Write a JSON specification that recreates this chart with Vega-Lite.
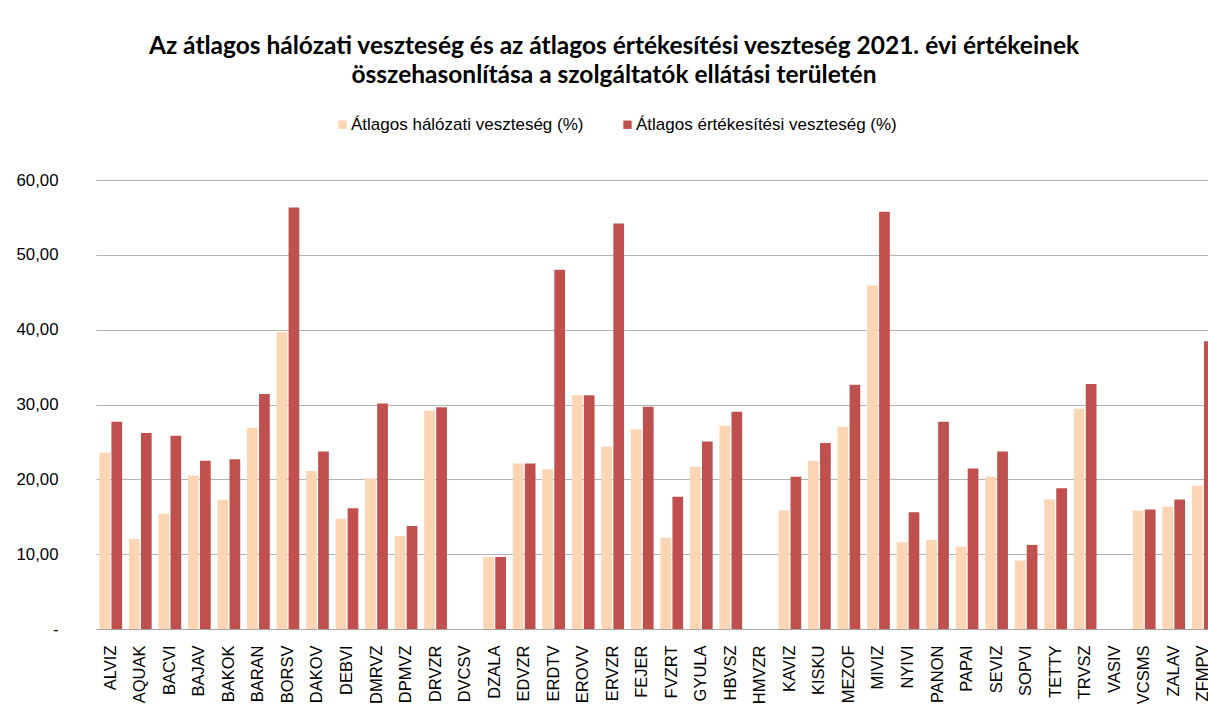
{
  "$schema": "https://vega.github.io/schema/vega-lite/v6.json",
  "autosize": {"type": "none"},
  "width": 1122,
  "height": 449,
  "padding": {"left": 96, "top": 180, "right": 0, "bottom": 77},
  "background": "white",
  "config": {"view": {"stroke": null}},
  "title": {
    "text": ["Az átlagos hálózati veszteség és az átlagos értékesítési veszteség 2021. évi értékeinek", "összehasonlítása a szolgáltatók ellátási területén"],
    "anchor": "middle",
    "frame": "group",
    "dx": -43,
    "offset": 28,
    "font": "Lato",
    "fontSize": 24.5,
    "fontWeight": "bold",
    "color": "#000000",
    "lineHeight": 29
  },
  "data": {
    "values": [
      {"szolgaltato": "ALVIZ", "mutato": "Átlagos hálózati veszteség (%)", "ertek": 23.55},
      {"szolgaltato": "ALVIZ", "mutato": "Átlagos értékesítési veszteség (%)", "ertek": 27.70},
      {"szolgaltato": "AQUAK", "mutato": "Átlagos hálózati veszteség (%)", "ertek": 12.04},
      {"szolgaltato": "AQUAK", "mutato": "Átlagos értékesítési veszteség (%)", "ertek": 26.18},
      {"szolgaltato": "BACVI", "mutato": "Átlagos hálózati veszteség (%)", "ertek": 15.39},
      {"szolgaltato": "BACVI", "mutato": "Átlagos értékesítési veszteség (%)", "ertek": 25.82},
      {"szolgaltato": "BAJAV", "mutato": "Átlagos hálózati veszteség (%)", "ertek": 20.52},
      {"szolgaltato": "BAJAV", "mutato": "Átlagos értékesítési veszteség (%)", "ertek": 22.48},
      {"szolgaltato": "BAKOK", "mutato": "Átlagos hálózati veszteség (%)", "ertek": 17.26},
      {"szolgaltato": "BAKOK", "mutato": "Átlagos értékesítési veszteség (%)", "ertek": 22.70},
      {"szolgaltato": "BARAN", "mutato": "Átlagos hálózati veszteség (%)", "ertek": 26.90},
      {"szolgaltato": "BARAN", "mutato": "Átlagos értékesítési veszteség (%)", "ertek": 31.40},
      {"szolgaltato": "BORSV", "mutato": "Átlagos hálózati veszteség (%)", "ertek": 39.65},
      {"szolgaltato": "BORSV", "mutato": "Átlagos értékesítési veszteség (%)", "ertek": 56.33},
      {"szolgaltato": "DAKOV", "mutato": "Átlagos hálózati veszteség (%)", "ertek": 21.10},
      {"szolgaltato": "DAKOV", "mutato": "Átlagos értékesítési veszteség (%)", "ertek": 23.73},
      {"szolgaltato": "DEBVI", "mutato": "Átlagos hálózati veszteség (%)", "ertek": 14.72},
      {"szolgaltato": "DEBVI", "mutato": "Átlagos értékesítési veszteség (%)", "ertek": 16.15},
      {"szolgaltato": "DMRVZ", "mutato": "Átlagos hálózati veszteség (%)", "ertek": 20.12},
      {"szolgaltato": "DMRVZ", "mutato": "Átlagos értékesítési veszteség (%)", "ertek": 30.15},
      {"szolgaltato": "DPMVZ", "mutato": "Átlagos hálózati veszteség (%)", "ertek": 12.44},
      {"szolgaltato": "DPMVZ", "mutato": "Átlagos értékesítési veszteség (%)", "ertek": 13.78},
      {"szolgaltato": "DRVZR", "mutato": "Átlagos hálózati veszteség (%)", "ertek": 29.17},
      {"szolgaltato": "DRVZR", "mutato": "Átlagos értékesítési veszteség (%)", "ertek": 29.62},
      {"szolgaltato": "DVCSV", "mutato": "Átlagos hálózati veszteség (%)", "ertek": null},
      {"szolgaltato": "DVCSV", "mutato": "Átlagos értékesítési veszteség (%)", "ertek": null},
      {"szolgaltato": "DZALA", "mutato": "Átlagos hálózati veszteség (%)", "ertek": 9.63},
      {"szolgaltato": "DZALA", "mutato": "Átlagos értékesítési veszteség (%)", "ertek": 9.63},
      {"szolgaltato": "EDVZR", "mutato": "Átlagos hálózati veszteség (%)", "ertek": 22.12},
      {"szolgaltato": "EDVZR", "mutato": "Átlagos értékesítési veszteség (%)", "ertek": 22.12},
      {"szolgaltato": "ERDTV", "mutato": "Átlagos hálózati veszteség (%)", "ertek": 21.36},
      {"szolgaltato": "ERDTV", "mutato": "Átlagos értékesítési veszteség (%)", "ertek": 47.99},
      {"szolgaltato": "EROVV", "mutato": "Átlagos hálózati veszteség (%)", "ertek": 31.22},
      {"szolgaltato": "EROVV", "mutato": "Átlagos értékesítési veszteség (%)", "ertek": 31.22},
      {"szolgaltato": "ERVZR", "mutato": "Átlagos hálózati veszteség (%)", "ertek": 24.40},
      {"szolgaltato": "ERVZR", "mutato": "Átlagos értékesítési veszteség (%)", "ertek": 54.19},
      {"szolgaltato": "FEJER", "mutato": "Átlagos hálózati veszteség (%)", "ertek": 26.67},
      {"szolgaltato": "FEJER", "mutato": "Átlagos értékesítési veszteség (%)", "ertek": 29.70},
      {"szolgaltato": "FVZRT", "mutato": "Átlagos hálózati veszteség (%)", "ertek": 12.18},
      {"szolgaltato": "FVZRT", "mutato": "Átlagos értékesítési veszteség (%)", "ertek": 17.66},
      {"szolgaltato": "GYULA", "mutato": "Átlagos hálózati veszteség (%)", "ertek": 21.68},
      {"szolgaltato": "GYULA", "mutato": "Átlagos értékesítési veszteség (%)", "ertek": 25.07},
      {"szolgaltato": "HBVSZ", "mutato": "Átlagos hálózati veszteség (%)", "ertek": 27.16},
      {"szolgaltato": "HBVSZ", "mutato": "Átlagos értékesítési veszteség (%)", "ertek": 29.04},
      {"szolgaltato": "HMVZR", "mutato": "Átlagos hálózati veszteség (%)", "ertek": null},
      {"szolgaltato": "HMVZR", "mutato": "Átlagos értékesítési veszteség (%)", "ertek": null},
      {"szolgaltato": "KAVIZ", "mutato": "Átlagos hálózati veszteség (%)", "ertek": 15.83},
      {"szolgaltato": "KAVIZ", "mutato": "Átlagos értékesítési veszteség (%)", "ertek": 20.34},
      {"szolgaltato": "KISKU", "mutato": "Átlagos hálózati veszteség (%)", "ertek": 22.48},
      {"szolgaltato": "KISKU", "mutato": "Átlagos értékesítési veszteség (%)", "ertek": 24.84},
      {"szolgaltato": "MEZOF", "mutato": "Átlagos hálózati veszteség (%)", "ertek": 26.98},
      {"szolgaltato": "MEZOF", "mutato": "Átlagos értékesítési veszteség (%)", "ertek": 32.65},
      {"szolgaltato": "MIVIZ", "mutato": "Átlagos hálózati veszteség (%)", "ertek": 45.90},
      {"szolgaltato": "MIVIZ", "mutato": "Átlagos értékesítési veszteség (%)", "ertek": 55.75},
      {"szolgaltato": "NYIVI", "mutato": "Átlagos hálózati veszteség (%)", "ertek": 11.60},
      {"szolgaltato": "NYIVI", "mutato": "Átlagos értékesítési veszteség (%)", "ertek": 15.61},
      {"szolgaltato": "PANON", "mutato": "Átlagos hálózati veszteség (%)", "ertek": 11.91},
      {"szolgaltato": "PANON", "mutato": "Átlagos értékesítési veszteség (%)", "ertek": 27.70},
      {"szolgaltato": "PAPAI", "mutato": "Átlagos hálózati veszteség (%)", "ertek": 11.02},
      {"szolgaltato": "PAPAI", "mutato": "Átlagos értékesítési veszteség (%)", "ertek": 21.45},
      {"szolgaltato": "SEVIZ", "mutato": "Átlagos hálózati veszteség (%)", "ertek": 20.34},
      {"szolgaltato": "SEVIZ", "mutato": "Átlagos értékesítési veszteség (%)", "ertek": 23.73},
      {"szolgaltato": "SOPVI", "mutato": "Átlagos hálózati veszteség (%)", "ertek": 9.14},
      {"szolgaltato": "SOPVI", "mutato": "Átlagos értékesítési veszteség (%)", "ertek": 11.24},
      {"szolgaltato": "TETTY", "mutato": "Átlagos hálózati veszteség (%)", "ertek": 17.31},
      {"szolgaltato": "TETTY", "mutato": "Átlagos értékesítési veszteség (%)", "ertek": 18.82},
      {"szolgaltato": "TRVSZ", "mutato": "Átlagos hálózati veszteség (%)", "ertek": 29.44},
      {"szolgaltato": "TRVSZ", "mutato": "Átlagos értékesítési veszteség (%)", "ertek": 32.74},
      {"szolgaltato": "VASIV", "mutato": "Átlagos hálózati veszteség (%)", "ertek": null},
      {"szolgaltato": "VASIV", "mutato": "Átlagos értékesítési veszteség (%)", "ertek": null},
      {"szolgaltato": "VCSMS", "mutato": "Átlagos hálózati veszteség (%)", "ertek": 15.79},
      {"szolgaltato": "VCSMS", "mutato": "Átlagos értékesítési veszteség (%)", "ertek": 15.97},
      {"szolgaltato": "ZALAV", "mutato": "Átlagos hálózati veszteség (%)", "ertek": 16.32},
      {"szolgaltato": "ZALAV", "mutato": "Átlagos értékesítési veszteség (%)", "ertek": 17.31},
      {"szolgaltato": "ZFMPV", "mutato": "Átlagos hálózati veszteség (%)", "ertek": 19.13},
      {"szolgaltato": "ZFMPV", "mutato": "Átlagos értékesítési veszteség (%)", "ertek": 38.45}
    ]
  },
  "mark": {"type": "bar"},
  "encoding": {
    "x": {
      "field": "szolgaltato",
      "type": "nominal",
      "sort": null,
      "scale": {
        "domain": ["ALVIZ", "AQUAK", "BACVI", "BAJAV", "BAKOK", "BARAN", "BORSV", "DAKOV", "DEBVI", "DMRVZ", "DPMVZ", "DRVZR", "DVCSV", "DZALA", "EDVZR", "ERDTV", "EROVV", "ERVZR", "FEJER", "FVZRT", "GYULA", "HBVSZ", "HMVZR", "KAVIZ", "KISKU", "MEZOF", "MIVIZ", "NYIVI", "PANON", "PAPAI", "SEVIZ", "SOPVI", "TETTY", "TRVSZ", "VASIV", "VCSMS", "ZALAV", "ZFMPV"],
        "paddingInner": 0.23,
        "paddingOuter": 0.115
      },
      "axis": {
        "title": null,
        "labelAngle": -90,
        "labelAlign": "right",
        "labelBaseline": "middle",
        "ticks": false,
        "labelPadding": 16,
        "labelFont": "Liberation Sans",
        "labelFontSize": 16.5,
        "labelColor": "#000000",
        "labelLimit": 0,
        "labelOverlap": false,
        "domainColor": "#a6a6a6",
        "domainWidth": 1,
        "grid": false
      }
    },
    "xOffset": {
      "field": "mutato",
      "type": "nominal",
      "sort": ["Átlagos hálózati veszteség (%)", "Átlagos értékesítési veszteség (%)"],
      "scale": {"paddingInner": 0.11}
    },
    "y": {
      "field": "ertek",
      "type": "quantitative",
      "scale": {"domain": [0, 60], "nice": false},
      "axis": {
        "title": null,
        "values": [0, 10, 20, 30, 40, 50, 60],
        "labelExpr": "datum.value == 0 ? '-\u00a0\u00a0\u00a0' : replace(format(datum.value, '.2f'), '.', ',')",
        "domain": false,
        "ticks": false,
        "labelPadding": 38,
        "labelFont": "Liberation Sans",
        "labelFontSize": 16.8,
        "labelColor": "#000000",
        "gridColor": "#b3b3b3",
        "gridWidth": 1
      }
    },
    "color": {
      "field": "mutato",
      "type": "nominal",
      "scale": {
        "domain": ["Átlagos hálózati veszteség (%)", "Átlagos értékesítési veszteség (%)"],
        "range": ["#FCD5B5", "#C0504D"]
      },
      "legend": {
        "title": null,
        "orient": "none",
        "direction": "horizontal",
        "legendX": 238,
        "legendY": -64,
        "padding": 0,
        "symbolType": "square",
        "symbolSize": 70,
        "symbolStrokeWidth": 0,
        "symbolOpacity": 1,
        "labelFont": "Liberation Sans",
        "labelFontSize": 17,
        "labelColor": "#000000",
        "labelLimit": 0,
        "labelOffset": 0,
        "columnPadding": 35
      }
    }
  }
}
